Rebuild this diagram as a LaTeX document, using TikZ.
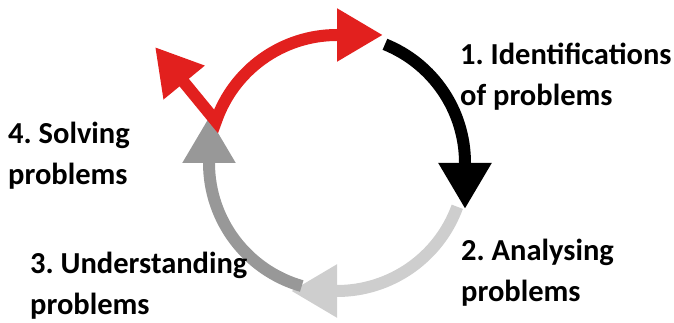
\documentclass[tikz,border=0pt]{standalone}
\usepackage{fontspec}
\setmainfont{Carlito}
\usetikzlibrary{arrows.meta, positioning}
\definecolor{cyclered}{RGB}{226,32,30}
\definecolor{palegray}{RGB}{206,206,206}
\definecolor{midgray}{RGB}{152,152,152}
\frenchspacing

\begin{document}
\begin{tikzpicture}[x=1pt, y=1pt,
        band/.style={line width=12pt, -{Triangle[width=50pt, length=46pt]}},
        stagetext/.style={font=\fontsize{30.5}{41}\selectfont\bfseries, align=left, anchor=base west, inner sep=0pt}]
        \useasboundingbox (0,0) rectangle (674,323);

        % Centre of the cycle
        \coordinate (c) at (337,160);
        \coordinate (back) at (155,276);

        % Identification -> analysing
        \draw[band, black] ([shift={(68:128)}]c) arc (68:0:128) -- ++(0,-46);
        % Analysing -> understanding
        \draw[band, palegray] ([shift={(-20:128)}]c) arc (-20:-90:128) -- ++(-46,0);
        % Understanding -> solving
        \draw[band, midgray] ([shift={(-106:128)}]c) arc (-106:-180:128) -- ++(0,46);
        % Solving -> back to identification (two heads)
        \draw[band, cyclered, {Triangle[width=50pt, length=46pt]}-{Triangle[width=50pt, length=46pt]}, line join=miter]
            (back) -- ([shift={(161:128)}]c) arc (161:90:128) -- ++(46,0);

        % Stages (anchored on the last line)
        \node[stagetext] (ident) at (460,217) {1. Identifications\\of problems};
        \node[stagetext] (analyse) at (461,21) {2. Analysing\\problems};
        \node[stagetext] (underst) at (30,8) {3. Understanding\\problems};
        \node[stagetext] (solve) at (8,138) {4. Solving\\problems};
\end{tikzpicture}
\end{document}
